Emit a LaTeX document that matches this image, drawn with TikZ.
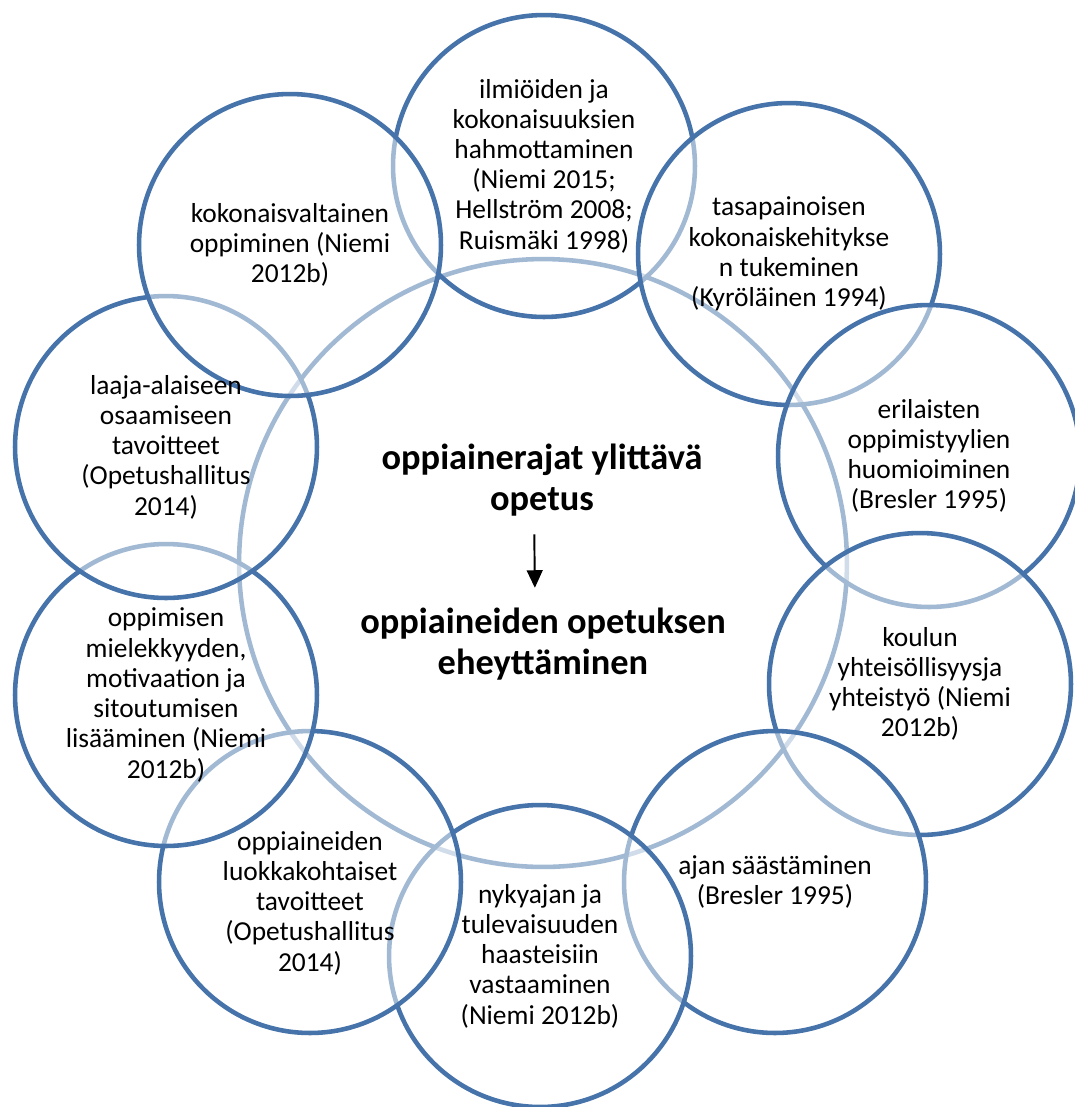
\documentclass[tikz,border=0pt]{standalone}
\usepackage{fontspec}
\setmainfont{Carlito}
\usetikzlibrary{arrows.meta,positioning}
\definecolor{ringblue}{RGB}{70,115,170}

\begin{document}
\begin{tikzpicture}[x=0.02cm, y=-0.02cm,
    hub/.style={circle, draw=ringblue, line width=2.6pt, fill=white,
                minimum size=12.16cm, inner sep=0pt},
    petal/.style={circle, draw=ringblue, line width=2.6pt, fill=white,
                  fill opacity=0.5, minimum size=6.04cm, inner sep=0pt},
    ptext/.style={align=center, inner sep=0pt,
                  font=\fontsize{15.6}{17.2}\selectfont},
    mtext/.style={align=center, inner sep=0pt,
                  font=\fontsize{20.7}{23.8}\selectfont\bfseries},
    arr/.style={-{Triangle[length=10pt,width=9pt]}, line width=1.1pt}
  ]
  \useasboundingbox (0,0) rectangle (1075,1107);

  \node[hub] (hub) at (543,563) {};

  % outer circles, clockwise from the top
  \foreach \i/\x/\y in {1/544/166, 2/789/254, 3/929/456, 4/920/684,
                        5/775/882, 6/540/956, 7/310/882, 8/166/695,
                        9/166/447, 10/290/245}{
    \node[petal] (c\i) at (\x,\y) {};
  }

  \foreach \i/\dy/\txt in {
      1/0/{ilmiöiden ja\\kokonaisuuksien\\hahmottaminen\\(Niemi 2015;\\Hellström 2008;\\Ruismäki 1998)},
      2/0/{tasapainoisen\\kokonaiskehitykse\\n tukeminen\\(Kyröläinen 1994)},
      3/0/{erilaisten\\oppimistyylien\\huomioiminen\\(Bresler 1995)},
      4/0/{koulun\\yhteisöllisyysja\\yhteistyö (Niemi\\2012b)},
      5/0/{ajan säästäminen\\(Bresler 1995)},
      6/0/{nykyajan ja\\tulevaisuuden\\haasteisiin\\vastaaminen\\(Niemi 2012b)},
      7/-12pt/{oppiaineiden\\luokkakohtaiset\\tavoitteet\\(Opetushallitus\\2014)},
      8/0/{oppimisen\\mielekkyyden,\\motivaation ja\\sitoutumisen\\lisääminen (Niemi\\2012b)},
      9/0/{laaja-alaiseen\\osaamiseen\\tavoitteet\\(Opetushallitus\\2014)},
      10/0/{kokonaisvaltainen\\oppiminen (Niemi\\2012b)}}{
    \node[ptext] (t\i) at ([yshift=\dy]c\i.center) {\txt};
  }

  \node[mtext] (topic) at (542,480) {oppiainerajat ylittävä\\opetus};
  \node[mtext] (goal) at (543,644) {oppiaineiden opetuksen\\eheyttäminen};
  \draw[arr, shorten <=10pt, shorten >=11pt]
    ([xshift=-4.5pt]topic.south) -- ([xshift=-4.5pt]goal.north);
\end{tikzpicture}
\end{document}
